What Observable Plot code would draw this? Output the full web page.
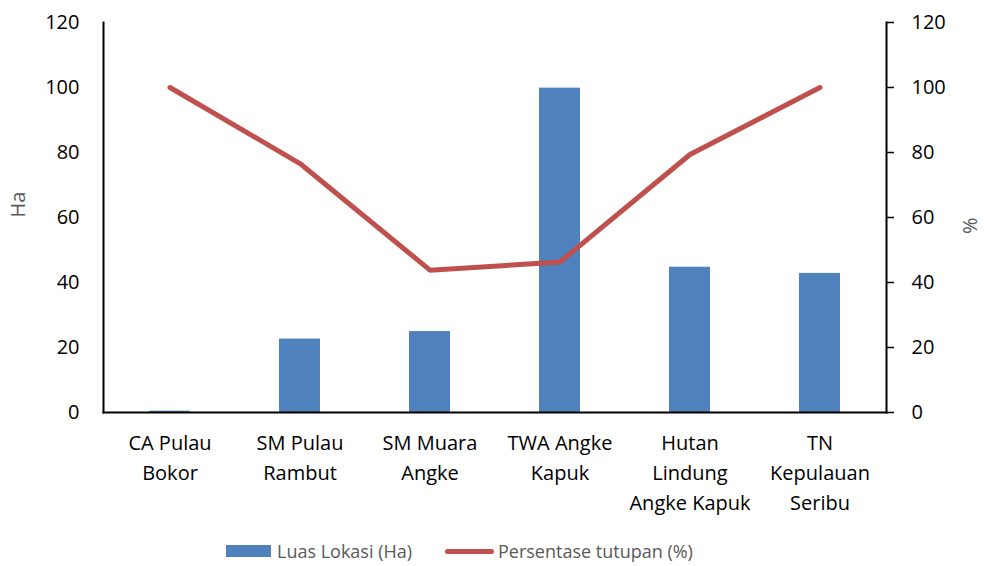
<!DOCTYPE html>
<html>
<head>
<meta charset="utf-8">
<script src="https://cdn.jsdelivr.net/npm/d3@7"></script>
<script src="https://cdn.jsdelivr.net/npm/@observablehq/plot@0.6"></script>
<style>
  html, body { margin: 0; padding: 0; background: #fff; }
  body { width: 984px; height: 566px; overflow: hidden; font-family: "Open Sans", sans-serif; }
  #legend { position: absolute; left: 0; top: 538px; width: 984px; height: 26px; }
  .item { position: absolute; top: 0; height: 26px; display: flex; align-items: center; font-size: 18px; color: #595959; white-space: nowrap; }
</style>
</head>
<body>
<div id="chart"></div>
<div id="legend">
  <div class="item" style="left:226px"><span style="display:inline-block;width:45px;height:12px;background:#4F81BD;margin-right:6px"></span>Luas Lokasi (Ha)</div>
  <div class="item" style="left:445px"><span style="display:inline-block;width:49px;height:5px;border-radius:3px;background:#C0504D;margin-right:4px"></span>Persentase tutupan (%)</div>
</div>
<script>
const categories = ["CA Pulau\nBokor", "SM Pulau\nRambut", "SM Muara\nAngke", "TWA Angke\nKapuk", "Hutan\nLindung\nAngke Kapuk", "TN\nKepulauan\nSeribu"];
const luasLokasi = [0.4, 22.6, 24.9, 99.8, 44.7, 42.8];
const persentaseTutupan = [100, 76.6, 43.8, 46.3, 79.4, 100];
const yTicks = [0, 20, 40, 60, 80, 100, 120];

const data = categories.map((c, i) => ({cat: c, luas: luasLokasi[i], pct: persentaseTutupan[i]}));

const chart = Plot.plot({
  width: 984,
  height: 530,
  marginLeft: 103,
  marginRight: 98,
  marginTop: 22,
  marginBottom: 118,
  style: {fontFamily: "Open Sans", fontSize: "20px", color: "#000", background: "#fff"},
  x: {domain: categories, paddingInner: 0.686, paddingOuter: 0.343, axis: null},
  y: {domain: [0, 120], axis: null},
  marks: [
    Plot.barY(data, {x: "cat", y: "luas", fill: "#4F81BD"}),
    Plot.line(data, {x: "cat", y: "pct", stroke: "#C0504D", strokeWidth: 5, strokeLinecap: "round", strokeLinejoin: "round"}),
    Plot.axisX({domain: categories, tickSize: 0, tickPadding: 16, lineHeight: 1.5, fontSize: 20, fill: "#000", label: null}),
    Plot.axisY({ticks: yTicks, anchor: "left", tickSize: 0, tickPadding: 24, fontSize: 20, fill: "#000", label: null}),
    Plot.axisY({ticks: yTicks, anchor: "right", tickSize: 7, tickPadding: 18, fontSize: 20, fill: "#000", stroke: "#000", strokeWidth: 1.5, label: null}),
    Plot.frame({anchor: "left", stroke: "#000", strokeWidth: 2}),
    Plot.frame({anchor: "right", stroke: "#000", strokeWidth: 2}),
    Plot.frame({anchor: "bottom", stroke: "#000", strokeWidth: 2}),
    Plot.text(["Ha"], {frameAnchor: "left", dx: -85, rotate: -90, fill: "#595959", fontSize: 20}),
    Plot.text(["%"], {frameAnchor: "right", dx: 84, rotate: -90, fill: "#595959", fontSize: 20})
  ]
});
document.getElementById("chart").appendChild(chart);
</script>
</body>
</html>
